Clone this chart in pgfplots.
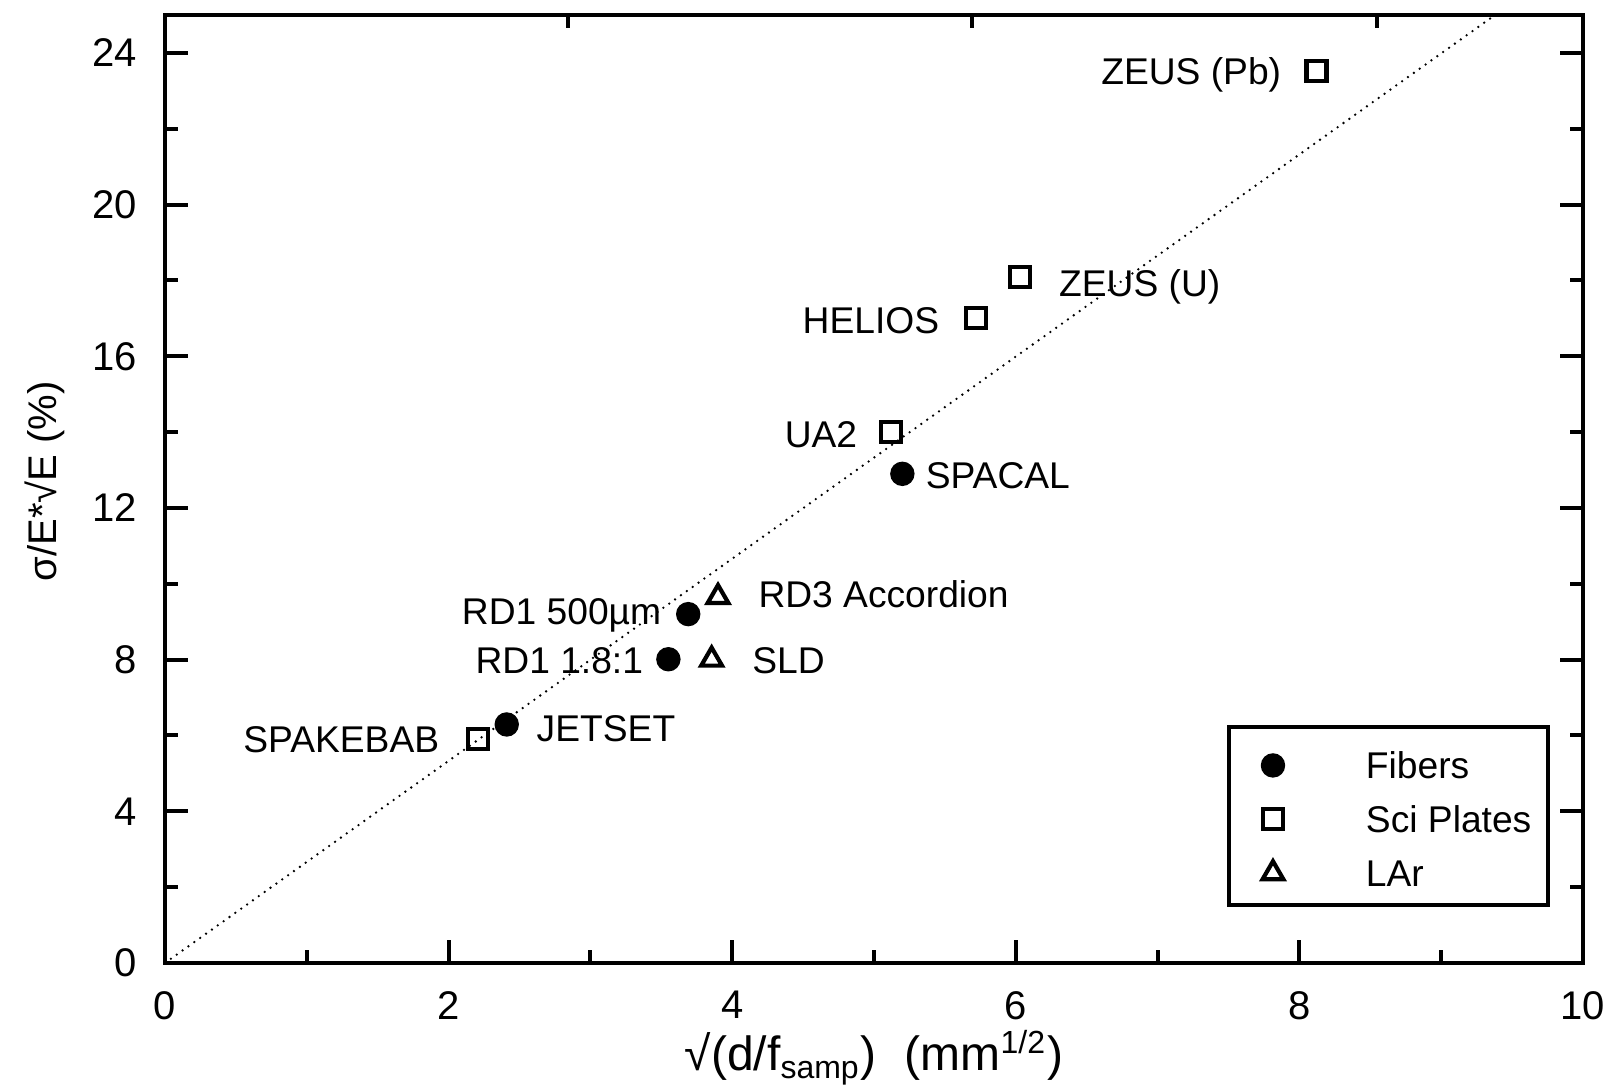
\documentclass[border=0pt]{standalone}
\usepackage{fontspec}
\setmainfont{Liberation Sans}
\usepackage{pgfplots}
\pgfplotsset{compat=1.18}

\pgfplotsset{
  legimg/.style={legend image code/.code={
    \path (-6.25pt,0pt) (22.75pt,4.5pt);
    \draw[##1] plot coordinates {(0pt,0pt)};
  }},
}
\tikzset{lbl/.style={inner sep=0pt, text height=6.7pt, text depth=0pt}}

\begin{document}
\begin{tikzpicture}
\fontsize{9.3}{11}\selectfont
\begin{axis}[
  name=ax,
  scale only axis,
  width=354.5pt, height=237pt,
  xmin=0, xmax=10, ymin=0, ymax=25,
  xtick={0,2,...,10}, ytick={0,4,...,24},
  minor xtick={1,3,...,9}, minor ytick={2,6,...,22},
  xtick pos=bottom,
  tick align=inside,
  major tick length=5.75pt, minor tick length=3.25pt,
  every tick/.style={black, line width=1pt},
  axis line style={line width=1pt},
  /pgf/number format/assume math mode=true,
  tick label style={font=\fontsize{10}{12}\selectfont},
  xticklabel style={yshift=-3.75pt},
  yticklabel style={xshift=-3.75pt},
  xlabel={√(d/f\textsubscript{samp})\hspace{7pt}(mm\textsuperscript{1/2})},
  ylabel={σ/E*√E (\%)},
  xlabel style={at={(axis description cs:0.5,-0.1139)}, anchor=base,
    font=\fontsize{12}{14}\selectfont},
  ylabel style={at={(axis description cs:-0.0846,0.508)}, anchor=center,
    font=\fontsize{10}{12}\selectfont},
  legend cell align=left,
  legend style={at={(0.977,0.0594)}, anchor=south east,
    draw=black, line width=1pt,
    inner xsep=4.25pt, inner ysep=4.5pt, row sep=5.13pt,
    nodes={inner sep=0pt, text height=6.7pt, text depth=0pt, anchor=west},
    /tikz/every odd column/.append style={column sep=0pt},
    /tikz/every even column/.append style={column sep=0pt}},
]

% fitted proportionality line
\addplot[forget plot, line width=0.65pt, line cap=round,
  dash pattern=on 0pt off 1.8pt] coordinates {(0,0) (9.38,25)};

% fibre calorimeters
\addplot[only marks, mark=*, mark size=2.8pt,
  mark options={fill=black, draw=black, line width=0.5pt}, legimg]
  coordinates {(5.20,12.90) (3.69,9.20) (3.55,8.01) (2.41,6.29)};
\addlegendentry{Fibers}

% scintillator plate calorimeters
\addplot[only marks, mark=square, mark size=2.5pt,
  mark options={draw=black, line width=1.05pt}, legimg]
  coordinates {(8.12,23.52) (6.03,18.10) (5.72,17.00) (5.12,14.00) (2.21,5.90)};
\addlegendentry{Sci Plates}

% liquid argon calorimeters
\addplot[only marks, mark=triangle, mark size=3pt,
  mark options={draw=black, line width=1.05pt}, legimg]
  coordinates {(3.90,9.65) (3.855,8.00)};
\addlegendentry{LAr}

\node[lbl, anchor=east] at (axis cs:7.877,23.53) {ZEUS (Pb)};
\node[lbl, anchor=west] at (axis cs:6.30,17.93) {ZEUS (U)};
\node[lbl, anchor=east] at (axis cs:5.465,16.96) {HELIOS};
\node[lbl, anchor=east] at (axis cs:4.887,13.96) {UA2};
\node[lbl, anchor=west] at (axis cs:5.36,12.86) {SPACAL};
\node[lbl, anchor=west] at (axis cs:4.18,9.72) {RD3 Accordion};
\node[lbl, anchor=east] at (axis cs:3.505,9.28) {RD1 500µm};
\node[lbl, anchor=east] at (axis cs:3.377,7.99) {RD1 1.8:1};
\node[lbl, anchor=west] at (axis cs:4.137,7.99) {SLD};
\node[lbl, anchor=west] at (axis cs:2.616,6.19) {JETSET};
\node[lbl, anchor=east] at (axis cs:1.939,5.90) {SPAKEBAB};

% short ticks along the top edge
\draw[line width=1pt] (axis cs:2.84,25) -- ++(0pt,-3.25pt);
\draw[line width=1pt] (axis cs:5.69,25) -- ++(0pt,-3.25pt);
\draw[line width=1pt] (axis cs:8.55,25) -- ++(0pt,-3.25pt);
\end{axis}
\pgfresetboundingbox
\path ([shift={(-41.25pt,-31.5pt)}]ax.south west) rectangle ([shift={(6.75pt,3.75pt)}]ax.north east);
\end{tikzpicture}
\end{document}
